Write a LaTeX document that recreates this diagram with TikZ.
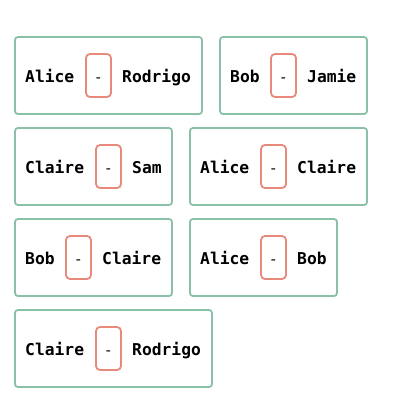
\documentclass[tikz,border=0pt]{standalone}
\usepackage{fontspec}
\newfontfamily\monob{DejaVu Sans Mono}
\definecolor{boxgreen}{HTML}{8AC0A6}
\definecolor{dashred}{HTML}{E8897A}
\tikzset{
  outerbox/.style={draw=boxgreen, line width=1.8pt, rounded corners=3pt, inner sep=0pt, minimum height=77pt},
  dashbox/.style={draw=dashred, line width=1.8pt, rounded corners=4pt, inner sep=0pt, minimum width=25pt, minimum height=43pt},
  dashtxt/.style={inner sep=0pt, anchor=base, font=\fontsize{15}{16}\selectfont\monob},
  lbl/.style={inner sep=0pt, anchor=base west, font=\fontsize{16.3}{16}\selectfont\monob\bfseries}
}
\begin{document}
\begin{tikzpicture}[x=1pt,y=-1pt]
\useasboundingbox (0,0) rectangle (400,402);
% row 1
\node[outerbox, minimum width=187pt] (o1) at (108.5,75.5) {};
\node[dashbox] (d1) at (98.5,75.5) {};
\node[dashtxt] (h1) at (98.5,82) {-};
\node[lbl] (l1) at (25,82) {Alice};
\node[lbl] (r1) at (122,82) {Rodrigo};
\node[outerbox, minimum width=147pt] (o2) at (293.5,75.5) {};
\node[dashbox] (d2) at (283.5,75.5) {};
\node[dashtxt] (h2) at (283.5,82) {-};
\node[lbl] (l2) at (230,82) {Bob};
\node[lbl] (r2) at (307,82) {Jamie};
% row 2
\node[outerbox, minimum width=157pt] (o3) at (93.5,166.5) {};
\node[dashbox] (d3) at (108.5,166.5) {};
\node[dashtxt] (h3) at (108.5,173) {-};
\node[lbl] (l3) at (25,173) {Claire};
\node[lbl] (r3) at (132,173) {Sam};
\node[outerbox, minimum width=177pt] (o4) at (278.5,166.5) {};
\node[dashbox] (d4) at (273.5,166.5) {};
\node[dashtxt] (h4) at (273.5,173) {-};
\node[lbl] (l4) at (200,173) {Alice};
\node[lbl] (r4) at (297,173) {Claire};
% row 3
\node[outerbox, minimum width=157pt] (o5) at (93.5,257.5) {};
\node[dashbox] (d5) at (78.5,257.5) {};
\node[dashtxt] (h5) at (78.5,264) {-};
\node[lbl] (l5) at (25,264) {Bob};
\node[lbl] (r5) at (102,264) {Claire};
\node[outerbox, minimum width=147pt] (o6) at (263.5,257.5) {};
\node[dashbox] (d6) at (273.5,257.5) {};
\node[dashtxt] (h6) at (273.5,264) {-};
\node[lbl] (l6) at (200,264) {Alice};
\node[lbl] (r6) at (297,264) {Bob};
% row 4
\node[outerbox, minimum width=197pt] (o7) at (113.5,348.5) {};
\node[dashbox] (d7) at (108.5,348.5) {};
\node[dashtxt] (h7) at (108.5,355) {-};
\node[lbl] (l7) at (25,355) {Claire};
\node[lbl] (r7) at (132,355) {Rodrigo};
\end{tikzpicture}
\end{document}
